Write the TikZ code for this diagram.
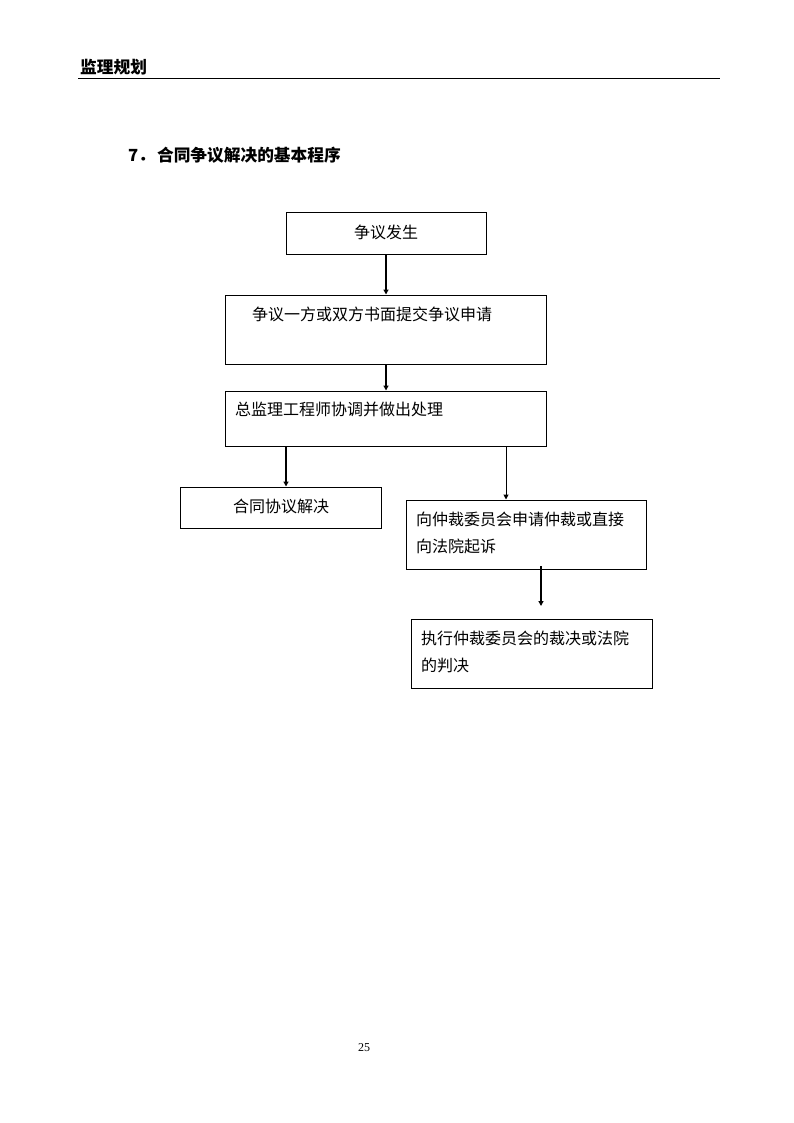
\documentclass[tikz,border=0pt]{standalone}
\usepackage{fontspec}
\newfontfamily\cjk{Noto Sans CJK SC}
\newfontfamily\numfont{Liberation Serif}
\usetikzlibrary{arrows.meta}
\begin{document}
\begin{tikzpicture}[x=1pt,y=-1pt,
  box/.style={draw,line width=1pt,inner sep=0pt,rectangle},
  txt/.style={inner sep=0pt,font=\cjk\fontsize{16}{27}\selectfont,align=left},
  hd/.style={inner sep=0pt,anchor=west,font=\cjk\bfseries\fontsize{16.7}{17}\selectfont},
  arr/.style={line width=2pt,-{Triangle[width=5pt,length=5pt]}},
  arrthin/.style={line width=1pt,-{Triangle[width=5pt,length=5pt]}}]
\useasboundingbox (0,0) rectangle (794,1123);
% header
\node[hd] (hdr) at (80,67) {监理规划};
\coordinate (hl) at (78,79);
\coordinate (hr) at (720,79);
\draw[line width=1pt] (hl) -- (hr);
\node[hd] (title) at (128,155) {7．\hspace{2pt}合同争议解决的基本程序};
% boxes
\node[box,minimum width=200pt,minimum height=41pt] (b1) at (386,233.5) {};
\node[box,minimum width=321pt,minimum height=69pt] (b2) at (385.5,329.5) {};
\node[box,minimum width=321pt,minimum height=55pt] (b3) at (385.5,418.5) {};
\node[box,minimum width=201pt,minimum height=41pt] (b4) at (280.5,507.5) {};
\node[box,minimum width=240pt,minimum height=69pt] (b5) at (526,534.5) {};
\node[box,minimum width=241pt,minimum height=69pt] (b6) at (531.5,653.5) {};
% texts
\node[txt] (t1) at (386,232) {争议发生};
\node[txt,anchor=west] (t2) at (252,314) {争议一方或双方书面提交争议申请};
\node[txt,anchor=west] (t3) at (235,409) {总监理工程师协调并做出处理};
\node[txt] (t4) at (281,506) {合同协议解决};
\node[txt,anchor=west] (t5) at (416,532.5) {向仲裁委员会申请仲裁或直接\\向法院起诉};
\node[txt,anchor=west] (t6) at (421,651.5) {执行仲裁委员会的裁决或法院\\的判决};
% connectors
\coordinate (c12) at (386,254);
\draw[arr] (c12) -- (c12 |- b2.north);
\coordinate (c23) at (386,364);
\draw[arr] (c23) -- (c23 |- b3.north);
\coordinate (c34) at (286,446);
\draw[arr] (c34) -- (c34 |- b4.north);
\coordinate (c35) at (506,446);
\draw[arrthin] (c35) -- (c35 |- b5.north);
\coordinate (c56) at (541,566);
\coordinate (c56e) at (541,606);
\draw[arr] (c56) -- (c56e);
% page number
\node[inner sep=0pt,font=\numfont\fontsize{12}{12}\selectfont] (pg) at (364,1048) {25};
\end{tikzpicture}
\end{document}
